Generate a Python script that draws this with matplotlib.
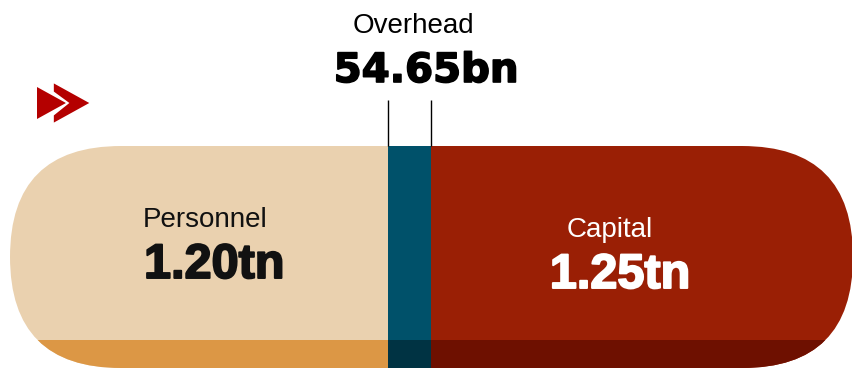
import numpy as np
import matplotlib.pyplot as plt
import matplotlib.patheffects as pe
from matplotlib.patches import FancyBboxPatch, Polygon
from matplotlib.transforms import IdentityTransform

W, H = 853, 370

# spending split, in trillions
categories = ['Personnel', 'Overhead', 'Capital']
values_tn = [1.20, 0.05465, 1.25]
value_labels = [f'{values_tn[0]:.2f}tn', f'{values_tn[1] * 1000:.2f}bn', f'{values_tn[2]:.2f}tn']

top_colors = ['#ead1af', '#00516a', '#9a1f05']
strip_colors = ['#dc9745', '#003343', '#6e1000']
arrow_red = '#b40000'

label_font = 'Liberation Sans'

# overhead is too thin to see at true scale, give it a minimum width
min_width = 0.127
widths = np.maximum(values_tn, min_width)
lefts = np.concatenate([[0], np.cumsum(widths)[:-1]])
total = widths.sum()

fig = plt.figure(figsize=(W / 100, H / 100), dpi=100)
ax = fig.add_axes([0, 0, 1, 1])
ax.set_xlim(0.05, total)
ax.set_ylim(H, 0)
ax.axis('off')

# capsule outline in pixels
pill = FancyBboxPatch((10, H - 368), 843, 222,
                      boxstyle='round,pad=0,rounding_size=111',
                      transform=IdentityTransform())

top = ax.barh(257, widths, left=lefts, height=222, color=top_colors, linewidth=0)
strip = ax.barh(354.5, widths, left=lefts, height=29, color=strip_colors, linewidth=0)
for b in list(top) + list(strip):
    b.set_clip_path(pill)

# leader lines for the overhead slice
ax.vlines([lefts[1], lefts[1] + widths[1]], 100, 146, color='black', lw=1)


def put(x, y, s, **kw):
    return fig.text(x / W, 1 - y / H, s, **kw)


def heavy(t, lw=1.6):
    # fatten the bold face a little
    t.set_path_effects([pe.withStroke(linewidth=lw, foreground=t.get_color())])


def poly(pts, **kw):
    pts = [(x / W, 1 - y / H) for x, y in pts]
    fig.patches.append(Polygon(pts, closed=True, transform=fig.transFigure, **kw))


# labels
put(413, 33, categories[1], ha='center', va='baseline', fontsize=20,
    family=label_font, color='black')
t = put(426, 82, value_labels[1], ha='center', va='baseline', fontsize=29,
        family='DejaVu Sans', weight='bold', color='black')
heavy(t, 1.2)

put(143, 227, categories[0], ha='left', va='baseline', fontsize=20,
    family=label_font, color='#111111')
t = put(144, 278, value_labels[0], ha='left', va='baseline', fontsize=35,
        family=label_font, weight='bold', color='#111111')
heavy(t, 1.4)

put(610, 237, categories[2], ha='center', va='baseline', fontsize=20,
    family=label_font, color='white')
t = put(620, 288, value_labels[2], ha='center', va='baseline', fontsize=35,
        family=label_font, weight='bold', color='white')
heavy(t, 1.4)

# double chevron mark
poly([(37, 87), (37, 119), (66, 103)], facecolor=arrow_red, edgecolor='none')
poly([(53, 82), (91, 103), (53, 124), (53, 115), (68, 103), (53, 92)],
     facecolor=arrow_red, edgecolor='white', linewidth=1.2)

fig.savefig('out.png', dpi=100)
